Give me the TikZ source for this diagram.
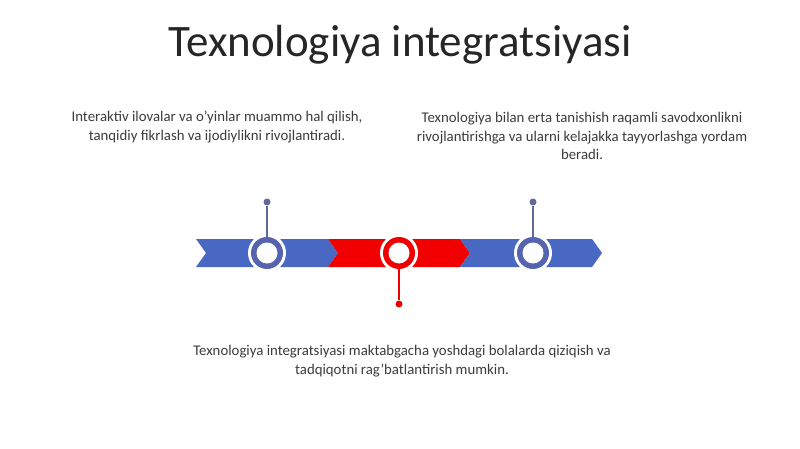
\documentclass[tikz,border=0pt]{standalone}
\usepackage{fontspec}
\setmainfont{Carlito}
\definecolor{bandblue}{RGB}{72,104,196}
\definecolor{ringblue}{RGB}{86,100,176}
\definecolor{stemblue}{RGB}{96,106,150}
\definecolor{bandred}{RGB}{242,0,0}
\definecolor{txt}{RGB}{60,60,60}
\begin{document}
\begin{tikzpicture}[x=1pt,y=-1pt,
  ringw/.style={circle,fill=white,minimum size=38pt,inner sep=0pt},
  body/.style={font=\fontsize{14.8}{18.5}\selectfont,text=txt,align=center,inner sep=0pt},
  stem/.style={line width=1.6pt},
  dotmark/.style={circle,inner sep=0pt,minimum size=7pt}]
\useasboundingbox[fill=white] (0,0) rectangle (800,449);
% title
\node[font=\fontsize{45}{50}\selectfont,text=black!85] (title) at (400,45) {Texnologiya integratsiyasi};
% chevrons
\fill[bandblue] (196,239) -- (328,239) -- (338,253) -- (328,267) -- (196,267) -- (206,253) -- cycle;
\fill[bandred] (328,239) -- (460,239) -- (470,253) -- (460,267) -- (328,267) -- (338,253) -- cycle;
\fill[bandblue] (460,239) -- (592,239) -- (602,253) -- (592,267) -- (460,267) -- (470,253) -- cycle;
% circles
\foreach \n/\x/\c in {c1/267/ringblue,c2/399/bandred,c3/533/ringblue}{
  \node[ringw] (\n) at (\x,253) {};
  \fill[\c] (\x,253) circle (16);
  \fill[white] (\x,253) circle (10.5);
}
% stems
\node[dotmark,fill=stemblue] (d1) at (267,202) {};
\node[dotmark,fill=stemblue] (d3) at (533,202) {};
\node[dotmark,fill=bandred] (d2) at (399,304) {};
\coordinate (t1) at (267,237);
\coordinate (t3) at (533,237);
\coordinate (t2) at (399,269);
\draw[stem,stemblue] (d1) -- (t1);
\draw[stem,stemblue] (d3) -- (t3);
\draw[stem,bandred] (d2) -- (t2);
% texts
\node[body] (l) at (217,127) {Interaktiv ilovalar va o'yinlar muammo hal qilish,\\tanqidiy fikrlash va ijodiylikni rivojlantiradi.};
\node[body] (r) at (582,136) {Texnologiya bilan erta tanishish raqamli savodxonlikni\\rivojlantirishga va ularni kelajakka tayyorlashga yordam\\beradi.};
\node[body] (b) at (402,361) {Texnologiya integratsiyasi maktabgacha yoshdagi bolalarda qiziqish va\\tadqiqotni rag'batlantirish mumkin.};
\end{tikzpicture}
\end{document}
